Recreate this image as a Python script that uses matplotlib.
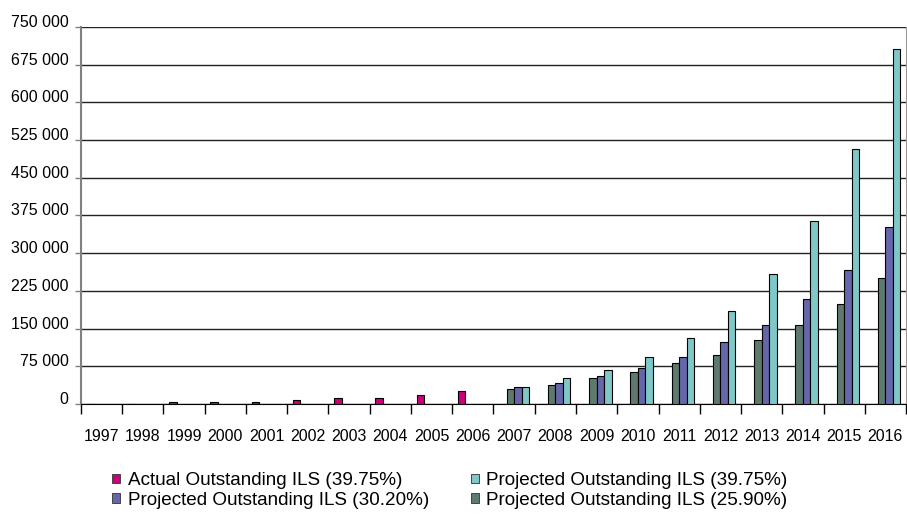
import numpy as np
import matplotlib
matplotlib.use("Agg")
import matplotlib.pyplot as plt
from matplotlib.ticker import FuncFormatter, FixedLocator
from matplotlib.patches import Patch

plt.rcParams['font.family'] = ['Liberation Sans', 'DejaVu Sans']

years = [str(y) for y in range(1997, 2017)]

# actual values 1997-2006
actual = [0, 0, 4000, 4000, 4000, 8000, 12500, 12500, 17000, 26000]
# projections 2007-2016
proj_2590 = [30000, 38000, 51000, 63000, 81000, 97000, 127000, 157000, 199500, 250000]
proj_3020 = [33000, 42000, 55000, 71500, 93000, 122500, 157000, 208000, 267000, 352000]
proj_3975 = [33000, 51000, 67500, 93500, 131000, 186000, 258000, 364000, 508000, 707000]

labels = ["Actual Outstanding ILS (39.75%)", "Projected Outstanding ILS (30.20%)",
          "Projected Outstanding ILS (39.75%)", "Projected Outstanding ILS (25.90%)"]
c_actual = '#CC0077'
c_3020 = '#6666AA'
c_3975 = '#80C8C8'
c_2590 = '#5E7A6E'

fig = plt.figure(figsize=(9.07, 5.14), dpi=100)
ax = fig.add_axes([0.0893, 0.214, 0.9096, 0.7335])

x = np.arange(len(years))
w = 0.182
x_act = x[:10]
x_proj = x[10:]
ax.bar(x_act - 1.5 * w, actual, w, color=c_actual, edgecolor='black', linewidth=0.8, zorder=3)
ax.bar(x_proj - 0.5 * w, proj_2590, w, color=c_2590, edgecolor='black', linewidth=0.8, zorder=3)
ax.bar(x_proj + 0.5 * w, proj_3020, w, color=c_3020, edgecolor='black', linewidth=0.8, zorder=3)
ax.bar(x_proj + 1.5 * w, proj_3975, w, color=c_3975, edgecolor='black', linewidth=0.8, zorder=3)

ax.set_xlim(-0.5, len(years) - 0.5)
ax.set_ylim(0, 750000)
ax.set_yticks(np.arange(0, 750001, 75000))
ax.yaxis.set_major_formatter(FuncFormatter(lambda v, p: f"{v:,.0f}".replace(',', ' ')))
ax.grid(axis='y', color='#222222', linewidth=1, zorder=1)

ax.xaxis.set_major_locator(FixedLocator(np.arange(-0.5, len(years), 1)))
ax.xaxis.set_major_formatter(plt.NullFormatter())
ax.set_xticks(x, minor=True)
ax.set_xticklabels(years, minor=True)
ax.tick_params(axis='x', which='major', length=7, width=1, color='black', direction='out')
ax.tick_params(axis='x', which='minor', length=0, pad=18, labelsize=11.5)
ax.tick_params(axis='y', length=4, width=1, color='#808080', pad=5, labelsize=11.5)
for t in ax.get_yticklabels():
    t.set_va('baseline')

ax.spines['top'].set_visible(False)
ax.spines['left'].set_color('#808080')
ax.spines['left'].set_linewidth(1.5)
ax.spines['right'].set_color('#999999')
ax.spines['bottom'].set_color('black')

handles = [Patch(facecolor=c_actual, edgecolor='#444444', linewidth=0.7),
           Patch(facecolor=c_3020, edgecolor='#444444', linewidth=0.7),
           Patch(facecolor=c_3975, edgecolor='#444444', linewidth=0.7),
           Patch(facecolor=c_2590, edgecolor='#444444', linewidth=0.7)]
fig.legend(handles, labels, ncol=2, loc='upper left', bbox_to_anchor=(0.124, 0.081),
           frameon=False, fontsize=13.6, handlelength=0.4, handleheight=0.4,
           handletextpad=0.4, columnspacing=2.25, labelspacing=0.12, borderaxespad=0, borderpad=0)

fig.savefig('out.png', dpi=100)
